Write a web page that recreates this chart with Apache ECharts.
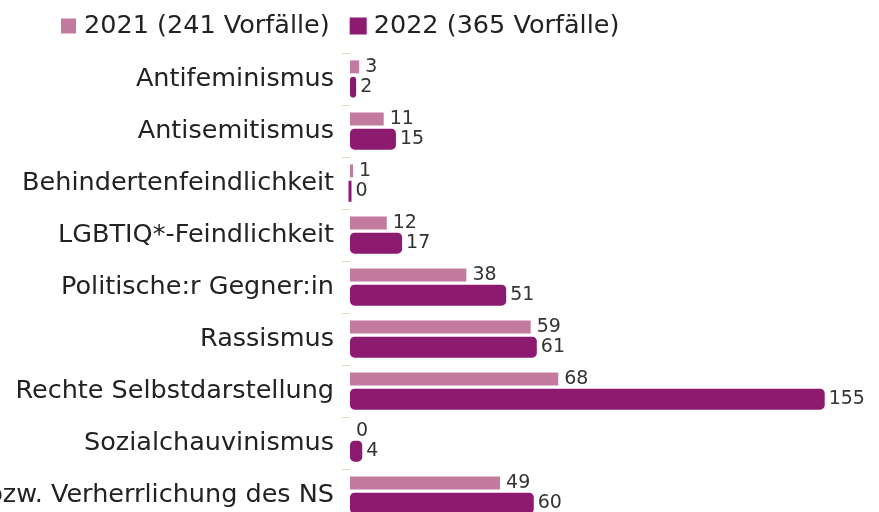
<!DOCTYPE html>
<html><head><meta charset="utf-8">
<script src="https://cdn.jsdelivr.net/npm/echarts@6/dist/echarts.min.js"></script>
<style>html,body{margin:0;padding:0;background:#fff}#c{width:879px;height:512px}</style>
</head><body><div id="c"></div>
<script>
const categories = ["Antifeminismus","Antisemitismus","Behindertenfeindlichkeit","LGBTIQ*-Feindlichkeit","Politische:r Gegner:in","Rassismus","Rechte Selbstdarstellung","Sozialchauvinismus","Relativierung bzw. Verherrlichung des NS"];
const values2021 = [3,11,1,12,38,59,68,0,49];
const values2022 = [2,15,0,17,51,61,155,4,60];
const seriesNames = ["2021 (241 Vorfälle)","2022 (365 Vorfälle)"];

const chart = echarts.init(document.getElementById('c'));
const font = 'DejaVu Sans, sans-serif';
chart.setOption({
  animation:false,
  legend:{top:8,left:56,itemWidth:15,itemHeight:15,itemGap:20,icon:'rect',
    textStyle:{fontFamily:font,fontSize:25.5,color:'#222',padding:[0,0,0,3]},data:seriesNames},
  grid:{left:350,right:39,top:53,bottom:-9,containLabel:false,outerBoundsMode:'none'},
  xAxis:{type:'value',min:0,max:160,show:false},
  yAxis:{type:'category',data:categories,inverse:true,
    axisLine:{show:false},
    axisTick:{show:true,length:8,lineStyle:{color:'#e6dcb8'}},
    axisLabel:{fontFamily:font,fontSize:25.5,color:'#222',margin:16}},
  series:[
    {name:seriesNames[0],type:'bar',data:values2021,barWidth:13,barGap:'25%',
     itemStyle:{color:'#c27b9e'},
     label:{show:true,position:'right',distance:6,fontFamily:font,fontSize:19,color:'#333'}},
    {name:seriesNames[1],type:'bar',data:values2022,barWidth:21,
     itemStyle:{color:'#8c1a6f',borderColor:'#8c1a6f',borderWidth:3,borderRadius:3},
     label:{show:true,position:'right',distance:4,fontFamily:font,fontSize:19,color:'#333'}}
  ]
});
</script></body></html>
